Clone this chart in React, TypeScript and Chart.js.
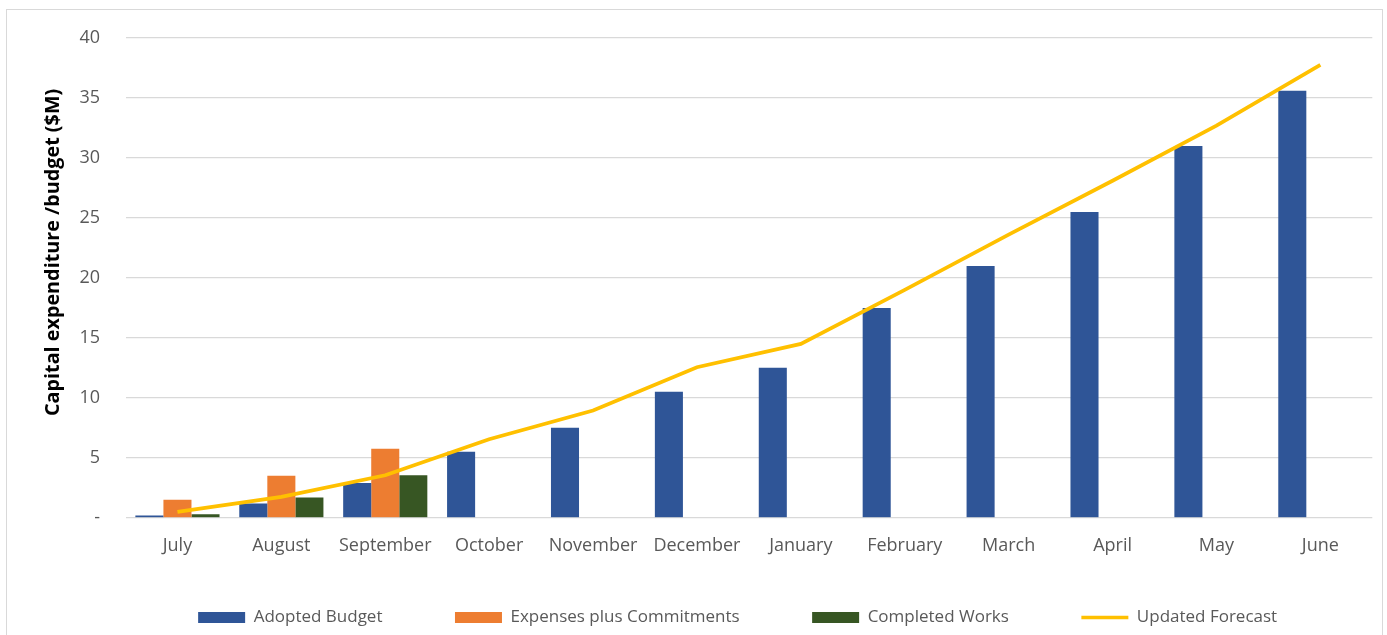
import React, { useEffect, useRef } from "react";
import { Chart, registerables, LinearScale } from "chart.js";

Chart.register(...registerables);

// ---- data ----
const categories = [
  "July", "August", "September", "October", "November", "December",
  "January", "February", "March", "April", "May", "June",
];
const adoptedBudget = [0.2, 1.2, 2.9, 5.5, 7.5, 10.5, 12.5, 17.5, 21.0, 25.5, 31.0, 35.6];
const expensesPlusCommitments = [1.5, 3.5, 5.75, null, null, null, null, null, null, null, null, null];
const completedWorks = [0.3, 1.7, 3.55, null, null, null, null, null, null, null, null, null];
const updatedForecast = [0.5, 1.75, 3.55, 6.55, 8.95, 12.55, 14.5, 19.0, 23.6, 28.1, 32.7, 37.75];
const yMin = 0;
const yMax = 40;
const yStep = 5;

const seriesLabels = ["Adopted Budget", "Expenses plus Commitments", "Completed Works", "Updated Forecast"];
const seriesColors = ["#2F5597", "#ED7D31", "#375623", "#FFC000"];

const FONT = "'Open Sans', 'Noto Sans', sans-serif";
const TEXT_COLOR = "#595959";
const TITLE_SHIFT = -51; // moves the y-axis title upward (centre shift = half)
const LEGEND_SHIFT_X = 48;
const LEGEND_SHIFT_Y = -26;
const LEGEND_PADDING = 72.5;
const CANVAS_W = 1375;
const CANVAS_H = 652;

class OffsetTitleLinearScale extends LinearScale {
  static id = "offsetTitleLinear";
  static defaults = LinearScale.defaults;
  drawTitle() {
    const top = this.top;
    this.top = top + TITLE_SHIFT;
    // @ts-ignore
    super.drawTitle();
    this.top = top;
  }
}
Chart.register(OffsetTitleLinearScale as any);

const legendShiftPlugin = {
  id: "legendShift",
  afterLayout(chart: any) {
    const l = chart.legend;
    if (l) {
      l.left += LEGEND_SHIFT_X;
      l.right += LEGEND_SHIFT_X;
      l.top += LEGEND_SHIFT_Y;
      l.bottom += LEGEND_SHIFT_Y;
    }
  },
};

export default function App() {
  const canvasRef = useRef<HTMLCanvasElement | null>(null);

  useEffect(() => {
    document.documentElement.style.overflow = "hidden";
    document.body.style.overflow = "hidden";
    const canvas = canvasRef.current;
    if (!canvas) return;

    const chart = new Chart(canvas, {
      type: "bar",
      data: {
        labels: categories,
        datasets: [
          {
            type: "bar",
            label: seriesLabels[0],
            data: adoptedBudget,
            backgroundColor: seriesColors[0],
            order: 1,
          },
          {
            type: "bar",
            label: seriesLabels[1],
            data: expensesPlusCommitments as any,
            backgroundColor: seriesColors[1],
            order: 1,
          },
          {
            type: "bar",
            label: seriesLabels[2],
            data: completedWorks as any,
            backgroundColor: seriesColors[2],
            order: 1,
          },
          {
            type: "line",
            label: seriesLabels[3],
            data: updatedForecast,
            borderColor: seriesColors[3],
            backgroundColor: seriesColors[3],
            borderWidth: 3.75,
            pointRadius: 0,
            pointHoverRadius: 0,
            tension: 0,
            fill: false,
            order: 0,
          } as any,
        ],
      },
      options: {
        responsive: false,
        animation: false,
        maintainAspectRatio: false,
        layout: { padding: { left: 0, right: 9.7, top: 28, bottom: 0 } },
        datasets: {
          bar: { barPercentage: 1, categoryPercentage: 0.81 },
        },
        plugins: {
          tooltip: { enabled: false },
          title: { display: false },
          legend: {
            display: true,
            position: "bottom",
            labels: {
              usePointStyle: true,
              pointStyleWidth: 47,
              boxHeight: 11,
              padding: LEGEND_PADDING,
              color: TEXT_COLOR,
              font: { family: FONT, size: 17 },
              generateLabels: (c: any) => {
                const items = (Chart.defaults.plugins.legend.labels as any).generateLabels(c);
                return items
                  .sort((a: any, b: any) => a.datasetIndex - b.datasetIndex)
                  .map((it: any) => {
                    const isLine = it.datasetIndex === 3;
                    const col = seriesColors[it.datasetIndex];
                    return {
                      ...it,
                      pointStyle: isLine ? "line" : "rect",
                      fillStyle: col,
                      strokeStyle: col,
                      lineWidth: isLine ? 3.5 : 0,
                      fontColor: TEXT_COLOR,
                    };
                  });
              },
            },
          },
        },
        scales: {
          x: {
            type: "category",
            grid: { display: false, drawTicks: false },
            border: { display: false },
            ticks: {
              color: TEXT_COLOR,
              font: { family: FONT, size: 18 },
              padding: 17.6,
              maxRotation: 0,
              autoSkip: false,
            },
            afterFit: (s: any) => {
              s.height = 44.7;
            },
          },
          y: {
            type: "offsetTitleLinear" as any,
            position: "left",
            min: yMin,
            max: yMax,
            grid: { color: "#d9d9d9", lineWidth: 1.2, drawTicks: false },
            border: { display: false },
            ticks: {
              stepSize: yStep,
              color: TEXT_COLOR,
              font: { family: FONT, size: 18 },
              padding: 25.5,
              callback: (v: any) => (Number(v) === 0 ? "-" : String(v)),
            },
            title: {
              display: true,
              text: "Capital expenditure /budget ($M)",
              color: "#000000",
              font: { family: FONT, size: 19.8, weight: "bold" },
              padding: { top: 34.5, bottom: 0 },
            },
            afterFit: (s: any) => {
              s.width = 118.5;
              s.paddingTop = 0;
              s.paddingBottom = 0;
            },
          } as any,
        },
      },
      plugins: [legendShiftPlugin],
    });

    return () => {
      chart.destroy();
    };
  }, []);

  return (
    <div
      style={{
        position: "absolute",
        left: 6,
        top: 9,
        width: CANVAS_W,
        height: CANVAS_H,
        borderTop: "1px solid #d9d9d9",
        borderLeft: "1px solid #d9d9d9",
        borderRight: "1px solid #d9d9d9",
        background: "#ffffff",
      }}
    >
      <canvas ref={canvasRef} width={CANVAS_W} height={CANVAS_H} style={{ display: "block" }} />
    </div>
  );
}
